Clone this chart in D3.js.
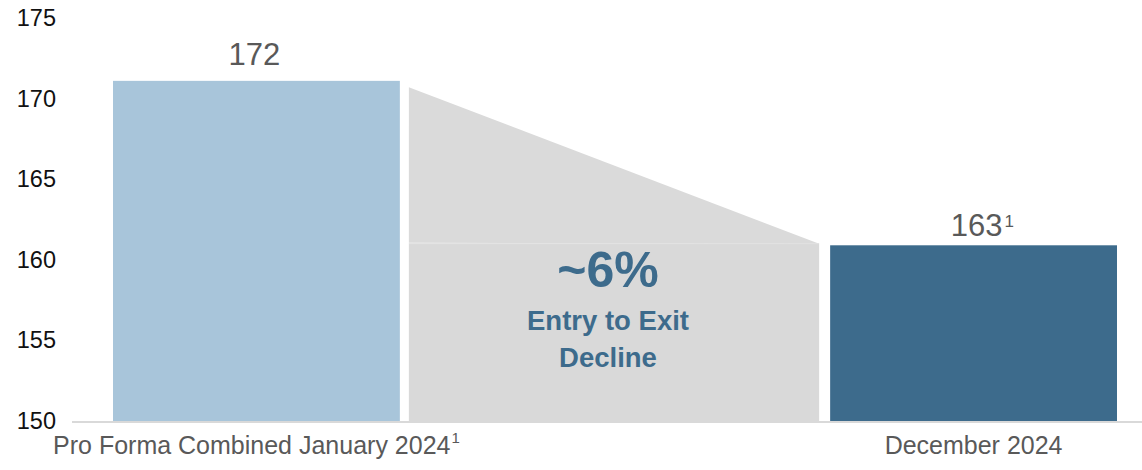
<!DOCTYPE html>
<html>
<head>
<meta charset="utf-8">
<script src="https://cdn.jsdelivr.net/npm/d3@7"></script>
<style>
  body { margin: 0; background: #fff; }
  svg text { font-family: "Liberation Sans", Arial, sans-serif; }
</style>
</head>
<body>
<div class="chart"></div>
<script>
const categories = ["Pro Forma Combined January 2024", "December 2024"];
const categoryNotes = ["1", ""];
const barValues = [171.1, 160.9];
const barLabels = ["172", "163"];
const barLabelNotes = ["", "1"];
const barColors = ["#a8c5da", "#3d6b8c"];
const bridgeTop = [170.7, 161.0];
const yTicks = [150, 155, 160, 165, 170, 175];
const changeText = ["~6%", "Entry to Exit", "Decline"];

const w = 1142;
const h = 470;

const svg = d3.select(".chart")
  .append("svg")
  .attr("width", w)
  .attr("height", h);

const y = d3.scaleLinear()
  .domain([150, 175])
  .range([421, 18]);

const x = d3.scaleBand()
  .domain(categories)
  .range([113, 1117])
  .paddingInner(0.6);

// y labels (no axis line)
const yAxis = svg.append("g")
  .attr("transform", "translate(56,0)")
  .call(d3.axisLeft(y).tickValues(yTicks).tickSize(0).tickPadding(0));
yAxis.select(".domain").remove();
yAxis.selectAll("text")
  .attr("font-size", 23.5)
  .attr("fill", "#111")
  .attr("font-family", "'Liberation Sans', Arial, sans-serif");

// bridge between the bars
const bx0 = x(categories[0]) + x.bandwidth() + 9;
const bx1 = x(categories[1]) - 11;
svg.append("rect")
  .attr("x", bx0)
  .attr("y", y(bridgeTop[1]))
  .attr("width", bx1 - bx0)
  .attr("height", y(150) - y(bridgeTop[1]))
  .attr("fill", "#d9d9d9");
svg.append("path")
  .attr("d", d3.line()([
    [bx0, y(bridgeTop[0])],
    [bx1, y(bridgeTop[1])],
    [bx0, y(bridgeTop[1]) - 1]
  ]) + "Z")
  .attr("fill", "#dadada");
svg.append("line")
  .attr("x1", bx0).attr("x2", bx1)
  .attr("y1", y(bridgeTop[1])).attr("y2", y(bridgeTop[1]))
  .attr("stroke", "#e0e0e0")
  .attr("stroke-width", 1);

// bars
svg.selectAll(".bar")
  .data(categories)
  .enter().append("rect")
  .attr("class", "bar")
  .attr("x", d => x(d))
  .attr("y", (d, i) => y(barValues[i]))
  .attr("width", x.bandwidth())
  .attr("height", (d, i) => y(150) - y(barValues[i]))
  .attr("fill", (d, i) => barColors[i]);

// baseline
svg.append("line")
  .attr("x1", 72).attr("x2", w)
  .attr("y1", y(150) + 1).attr("y2", y(150) + 1)
  .attr("stroke", "#d9d9d9")
  .attr("stroke-width", 2);

// value labels, footnote mark hangs off the right
const shift = i => barLabelNotes[i] ? 3 : -2;
const gap = i => barLabelNotes[i] ? 9 : 16;
svg.selectAll(".val")
  .data(categories)
  .enter().append("text")
  .attr("class", "val")
  .attr("x", (d, i) => x(d) + x.bandwidth() / 2 + shift(i))
  .attr("y", (d, i) => y(barValues[i]) - gap(i))
  .attr("text-anchor", "middle")
  .attr("font-size", 31)
  .attr("fill", "#595959")
  .text((d, i) => barLabels[i]);
svg.selectAll(".valnote")
  .data(categories)
  .enter().append("text")
  .attr("class", "valnote")
  .attr("x", (d, i) => x(d) + x.bandwidth() / 2 + shift(i) + 28)
  .attr("y", (d, i) => y(barValues[i]) - gap(i) - 9)
  .attr("font-size", 17)
  .attr("fill", "#595959")
  .text((d, i) => barLabelNotes[i]);

// category labels
const cl = svg.selectAll(".cat")
  .data(categories)
  .enter().append("text")
  .attr("class", "cat")
  .attr("x", d => x(d) + x.bandwidth() / 2)
  .attr("y", 454)
  .attr("text-anchor", "middle")
  .attr("font-size", 25)
  .attr("fill", "#595959")
  .text(d => d);
cl.append("tspan")
  .attr("font-size", 15)
  .attr("dx", 1)
  .attr("dy", -11)
  .text((d, i) => categoryNotes[i]);

// change annotation
const cx = (bx0 + bx1) / 2 - 6;
svg.append("text")
  .attr("x", cx).attr("y", 287)
  .attr("text-anchor", "middle")
  .attr("font-size", 50)
  .attr("font-weight", "bold")
  .attr("fill", "#3d6b8c")
  .text(changeText[0]);
svg.selectAll(".chg")
  .data(changeText.slice(1))
  .enter().append("text")
  .attr("class", "chg")
  .attr("x", cx)
  .attr("y", (d, i) => 330 + i * 37)
  .attr("text-anchor", "middle")
  .attr("font-size", 27.5)
  .attr("font-weight", "bold")
  .attr("fill", "#3d6b8c")
  .text(d => d);
</script>
</body>
</html>
